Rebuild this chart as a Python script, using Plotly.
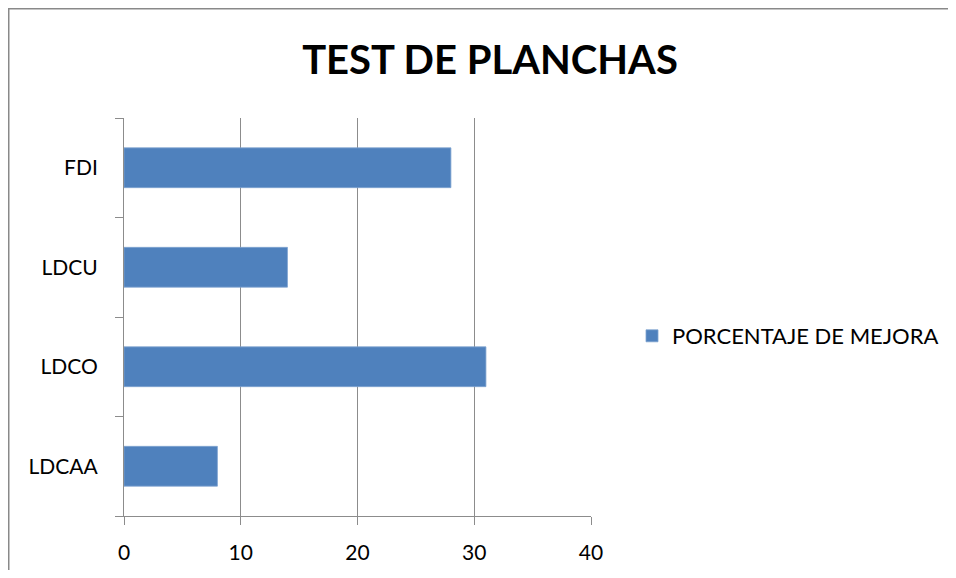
import plotly.graph_objects as go

categories = ["LDCAA", "LDCO", "LDCU", "FDI"]
values = [8, 31, 14, 28]
series_name = "PORCENTAJE DE MEJORA"
title = "TEST DE PLANCHAS"

# page has an 8px body margin; figure coordinates = page coordinates - 8
W, H = 940, 562
L, R, T, B = 116, 583, 110, 508

fig = go.Figure()
fig.add_trace(go.Bar(
    y=categories, x=values, orientation="h", name=series_name,
    marker=dict(color="#4F81BD", line=dict(color="#7FA3D1", width=0.8)),
))

gray = "#8C8C8C"
fig.update_layout(
    width=W, height=H,
    margin=dict(l=L, r=W - R, t=T, b=H - B, pad=0, autoexpand=False),
    paper_bgcolor="white", plot_bgcolor="white",
    bargap=0.6,
    title=dict(text="<b>" + title + "</b>", x=482 / W, xanchor="center",
               y=1 - 52 / H, yanchor="middle",
               font=dict(family="Lato, Liberation Sans, sans-serif", size=40, color="black")),
    font=dict(family="Lato, Liberation Sans, sans-serif", size=21, color="black"),
    showlegend=True,
    legend=dict(xref="container", yref="container",
                x=624 / W, y=1 - 328 / H, xanchor="left", yanchor="middle",
                font=dict(size=22), itemwidth=30, bgcolor="rgba(0,0,0,0)"),
    xaxis=dict(range=[0, 40], dtick=10, showgrid=True, gridcolor=gray, gridwidth=1,
               showline=True, linecolor=gray, linewidth=1, ticks="outside", ticklen=8,
               tickcolor=gray, zeroline=False, ticklabelstandoff=10, automargin=False),
    yaxis=dict(showline=True, linecolor=gray, linewidth=1, ticks="outside", ticklen=8,
               tickcolor=gray, tickson="boundaries", showgrid=False, ticklabelstandoff=21,
               automargin=False),
)
# outer chart frame (only its top and left edges are inside the picture)
px_x = lambda v: (v - L) / (R - L)
px_y = lambda v: (B - v) / (B - T)
fig.add_shape(type="line", xref="paper", yref="paper",
              x0=px_x(0), x1=px_x(W + 50), y0=px_y(0.75), y1=px_y(0.75),
              line=dict(color="#898989", width=1.5), layer="below")
fig.add_shape(type="line", xref="paper", yref="paper",
              x0=px_x(0.75), x1=px_x(0.75), y0=px_y(0), y1=px_y(H + 50),
              line=dict(color="#898989", width=1.5), layer="below")
fig.write_html("out.html")
